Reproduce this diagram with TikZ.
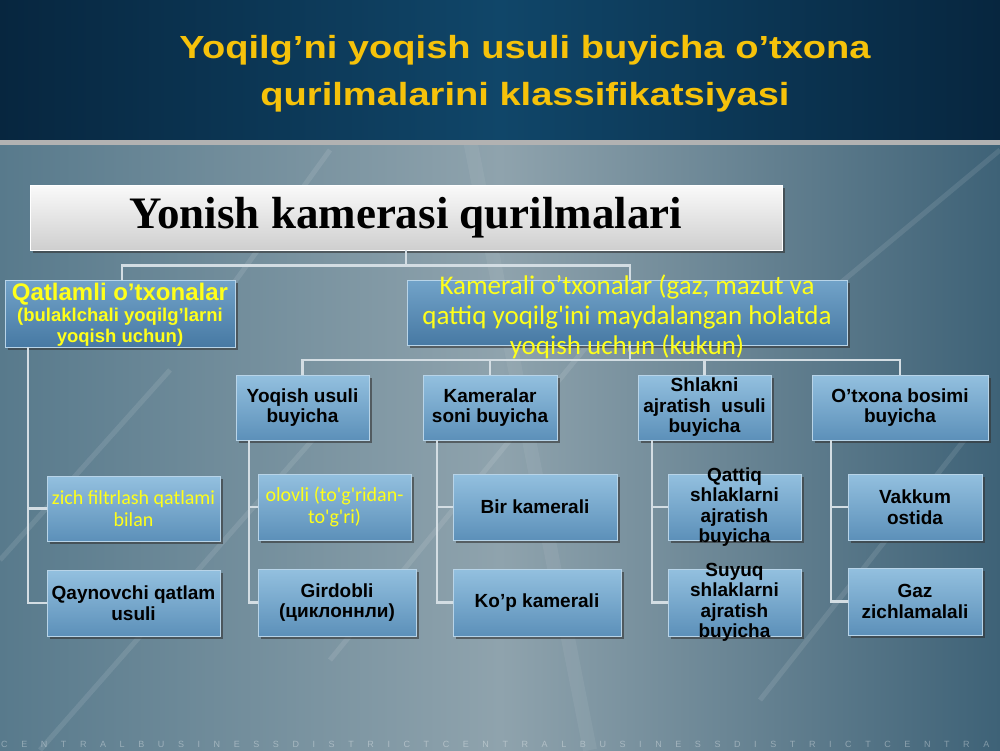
\documentclass[tikz,border=0pt]{standalone}
\usepackage{fontspec}
\setmainfont{Liberation Sans}
\newfontfamily\serifb{Liberation Serif}
\newfontfamily\carl{Carlito}
\usetikzlibrary{shadows}
\definecolor{hdrA}{HTML}{07263F}
\definecolor{hdrB}{HTML}{104669}
\definecolor{bgL}{HTML}{587A8C}
\definecolor{bgM}{HTML}{8FA3AD}
\definecolor{bgR}{HTML}{3E6277}
\definecolor{titley}{HTML}{F6C20A}
\definecolor{ylw}{HTML}{FFFF1A}
\definecolor{btop}{HTML}{93C0DF}
\definecolor{bbot}{HTML}{5C90B9}
\definecolor{dtop}{HTML}{72A3C9}
\definecolor{dbot}{HTML}{4779A3}
\definecolor{edgec}{HTML}{B8D4E8}
\definecolor{connc}{HTML}{D3DDE3}
\tikzset{
  lvl/.style={draw=edgec, line width=0.7pt, top color=btop, bottom color=bbot,
    drop shadow={opacity=0.6, fill=black!80, shadow xshift=3pt, shadow yshift=-3pt},
    inner sep=0pt, minimum height=66pt},
  dlvl/.style={lvl, top color=dtop, bottom color=dbot},
  blk/.style={font=\bfseries\fontsize{19}{20.5}\selectfont, text=black, align=center},
  yel/.style={font=\carl\fontsize{20}{22}\selectfont, text=ylw, align=center},
  conn/.style={draw=connc, line width=2.2pt},
  streak/.style={draw=white, opacity=0.10, line width=5pt}
}
\begin{document}
\begin{tikzpicture}[x=1pt,y=-1pt]
\useasboundingbox (0,0) rectangle (1000,750);
% backgrounds
\fill[left color=bgL, right color=bgR, middle color=bgM] (0,143) rectangle (1000,750);
\draw[streak] (0,560) -- (170,370);
\draw[streak] (40,750) -- (330,420);
\draw[streak] (330,660) -- (600,330);
\draw[streak] (760,700) -- (980,420);
\draw[streak] (820,300) -- (1000,150);
\draw[streak] (200,330) -- (330,150);
\draw[streak,opacity=0.06,line width=14pt] (590,750) -- (470,140);
\fill[left color=hdrA, right color=hdrA, middle color=hdrB] (0,0) rectangle (1000,140);
\fill[gray!60] (0,140) rectangle (1000,145);
\node[font=\bfseries\fontsize{32}{47}\selectfont, text=titley, align=center, xscale=1.19, transform shape] (title) at (525,74)
  {Yoqilg’ni yoqish usuli buyicha o’txona\\qurilmalarini klassifikatsiyasi};
% root
\node[draw=white, line width=0.8pt, top color=white!96!gray, bottom color=gray!38,
  drop shadow={opacity=0.6, fill=black!80, shadow xshift=3pt, shadow yshift=-3pt},
  minimum width=752pt, minimum height=65pt, inner sep=0pt,
  font=\serifb\bfseries\fontsize{45}{48}\selectfont] (root) at (406,217.5) {Yonish kamerasi qurilmalari};
% level 1
\node[dlvl, minimum width=230pt, minimum height=67pt,
  label={[font=\bfseries\fontsize{18.5}{21}\selectfont, text=ylw, align=center, yshift=-1pt]center:{{\fontsize{24}{24}\selectfont Qatlamli o’txonalar}\\(bulaklchali yoqilg’larni\\yoqish uchun)}}] (qat) at (120,313.5) {};
\node[dlvl, minimum width=440pt, minimum height=65pt,
  label={[font=\carl\fontsize{27}{30}\selectfont, text=ylw, align=center, yshift=-4pt]center:{Kamerali o’txonalar (gaz, mazut va\\qattiq yoqilg'ini maydalangan holatda\\yoqish uchun (kukun)}}] (kam) at (627,312.5) {};
% level 2
\node[lvl, minimum width=133pt, minimum height=65pt, label={[blk]center:{Yoqish usuli\\buyicha}}] (yoq) at (302.5,407.5) {};
\node[lvl, minimum width=134pt, minimum height=65pt, label={[blk]center:{Kameralar\\soni buyicha}}] (kms) at (490,407.5) {};
\node[lvl, minimum width=133pt, minimum height=65pt, label={[blk]center:{Shlakni\\ajratish\ \ usuli\\buyicha}}] (shl) at (704.5,407.5) {};
\node[lvl, minimum width=176pt, minimum height=65pt, label={[blk]center:{O’txona bosimi\\buyicha}}] (bos) at (900,407.5) {};
% level 3
\node[lvl, minimum width=173pt, minimum height=65pt, label={[yel]center:{zich filtrlash qatlami\\bilan}}] (zich) at (133.5,508.5) {};
\node[lvl, minimum width=173pt, label={[blk]center:{Qaynovchi qatlam\\usuli}}] (qay) at (133.5,603) {};
\node[lvl, minimum width=153pt, label={[yel]center:{olovli (to'g'ridan-\\to'g'ri)}}] (olo) at (334.5,507) {};
\node[lvl, minimum width=158pt, minimum height=67pt, label={[blk]center:{Girdobli\\(циклоннли)}}] (gir) at (337,602.5) {};
\node[lvl, minimum width=164pt, label={[blk]center:{Bir kamerali}}] (bir) at (535,507) {};
\node[lvl, minimum width=168pt, minimum height=67pt, label={[blk]center:{Ko’p kamerali}}] (kop) at (537,602.5) {};
\node[lvl, minimum width=133pt, label={[blk]center:{Qattiq\\shlaklarni\\ajratish\\buyicha}}] (qat3) at (734.5,507) {};
\node[lvl, minimum width=133pt, minimum height=67pt, label={[blk]center:{Suyuq\\shlaklarni\\ajratish\\buyicha}}] (suy) at (734.5,602.5) {};
\node[lvl, minimum width=134pt, label={[blk]center:{Vakkum\\ostida}}] (vak) at (915,507) {};
\node[lvl, minimum width=134pt, minimum height=67pt, label={[blk]center:{Gaz\\zichlamalali}}] (gaz) at (915,601.5) {};
% connectors
\draw[conn] (root.south) -- ++(0,15) coordinate (tb);
\draw[conn] (tb) -| ([xshift=2pt]qat.north);
\draw[conn] (tb) -| ([xshift=3pt]kam.north);
\draw[conn] ([xshift=3pt]kam.south) -- ++(0,15) coordinate (mb);
\draw[conn] (mb) -| (yoq.north);
\draw[conn] (mb) -| (kms.north);
\draw[conn] (mb) -| (shl.north);
\draw[conn] (mb) -| (bos.north);
\draw[conn] ([xshift=23pt]qat.south west) |- (zich.west);
\draw[conn] ([xshift=23pt]qat.south west) |- (qay.west);
\draw[conn] ([xshift=13pt]yoq.south west) |- (olo.west);
\draw[conn] ([xshift=13pt]yoq.south west) |- (gir.west);
\draw[conn] ([xshift=14pt]kms.south west) |- (bir.west);
\draw[conn] ([xshift=14pt]kms.south west) |- (kop.west);
\draw[conn] ([xshift=14pt]shl.south west) |- (qat3.west);
\draw[conn] ([xshift=14pt]shl.south west) |- (suy.west);
\draw[conn] ([xshift=19pt]bos.south west) |- (vak.west);
\draw[conn] ([xshift=19pt]bos.south west) |- (gaz.west);
% bottom strip text
\node[font=\fontsize{9}{9}\selectfont\addfontfeature{LetterSpace=151}, text=white, opacity=0.35, anchor=west, inner sep=0pt] (strip) at (1,744)
  {CENTRALBUSINESSDISTRICTCENTRALBUSINESSDISTRICTCENTRA};
\end{tikzpicture}
\end{document}
